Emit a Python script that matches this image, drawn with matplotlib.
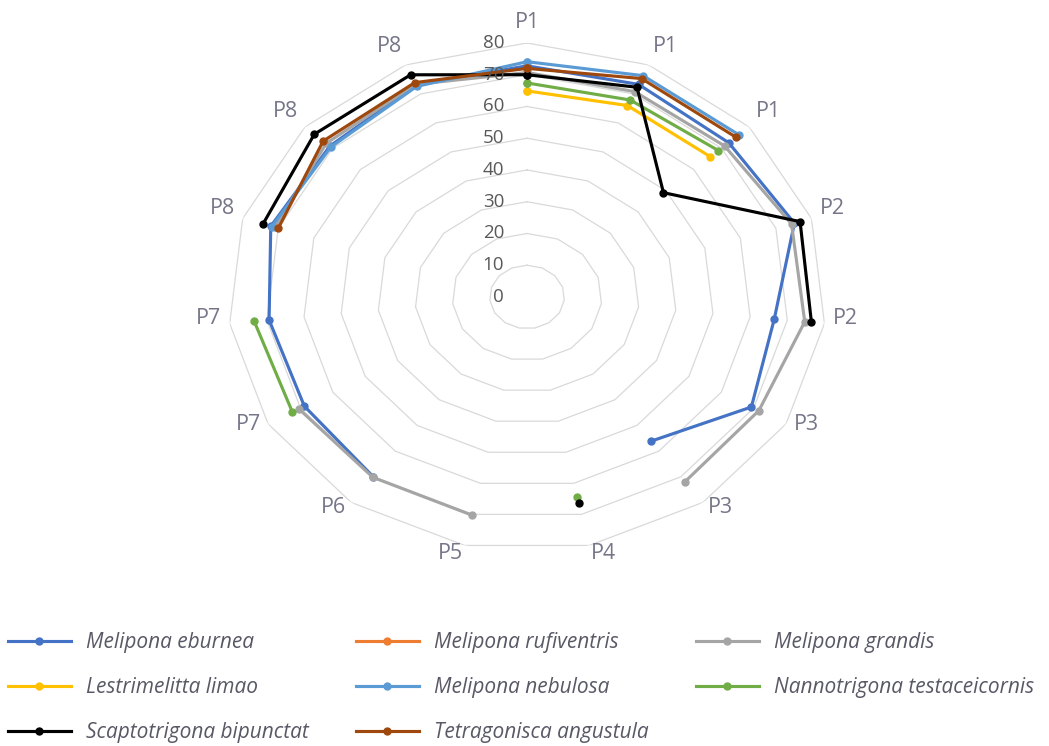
import numpy as np
import matplotlib
matplotlib.use('Agg')
import matplotlib.pyplot as plt
from matplotlib.lines import Line2D

plt.rcParams['font.family'] = ['Open Sans', 'DejaVu Sans']

# Define your data
categories = ['P1', 'P1', 'P1', 'P2', 'P2', 'P3', 'P3', 'P4',
              'P5', 'P6', 'P7', 'P7', 'P8', 'P8', 'P8']
nan = np.nan
eburnea = [72.8, 73.3, 72.6, 75.2, 66.5, 69.3, 56.2, nan, nan, 70.0, 68.8, 69.4, 72.1, 71.0, 73.1]
rufiventris = [nan] * 15
grandis = [70.7, 70.8, 71.1, 74.4, 74.7, 71.6, 71.9, nan, 70.3, 70.2, 70.5, nan, 70.9, 72.3, 73.3]
limao = [64.9, 66.0, 66.0, nan, nan, nan, nan, nan, nan, nan, nan, nan, nan, nan, nan]
nebulosa = [74.1, 76.3, 76.3, nan, nan, nan, nan, nan, nan, nan, nan, nan, 71.8, 70.6, 72.6]
nannotrigona = [67.4, 67.9, 68.9, nan, nan, nan, nan, 64.4, nan, nan, 72.5, 73.4, nan, nan, nan]
scaptotrigona = [70.0, 72.3, 49.1, 76.8, 76.5, nan, nan, 66.4, nan, nan, nan, nan, 74.3, 76.6, 76.6]
tetragonisca = [72.0, 75.3, 75.2, nan, nan, nan, nan, nan, nan, nan, nan, nan, 70.0, 73.4, 73.9]

series_names = ['Melipona eburnea', 'Melipona rufiventris', 'Melipona grandis',
                'Lestrimelitta limao', 'Melipona nebulosa', 'Nannotrigona testaceicornis',
                'Scaptotrigona bipunctat', 'Tetragonisca angustula']
series_values = [eburnea, rufiventris, grandis, limao, nebulosa,
                 nannotrigona, scaptotrigona, tetragonisca]
colors = ['#4472C4', '#ED7D31', '#A5A5A5', '#FFC000', '#5B9BD5',
          '#70AD47', '#000000', '#9E480E']
ring_levels = [10, 20, 30, 40, 50, 60, 70, 80]
tick_values = [0, 10, 20, 30, 40, 50, 60, 70, 80]

n = len(categories)
theta = np.arange(n) * 2 * np.pi / n
theta_closed = np.append(theta, 2 * np.pi)

fig = plt.figure(figsize=(10.49, 7.46), dpi=100)
# the reference is stretched horizontally, so let the polar axes fill a wide box
ax = fig.add_axes([0.2174, 0.2614, 0.5701, 0.681], projection='polar')
ax.set_aspect('auto')
ax.set_theta_zero_location('N')
ax.set_theta_direction(-1)
ax.set_ylim(0, 80)
ax.grid(False)
ax.set_xticks([])
ax.set_yticks([])
ax.spines['polar'].set_visible(False)
ax.patch.set_alpha(0)

# polygon gridlines
for lv in ring_levels:
    ax.plot(theta_closed, [lv] * (n + 1), color='#D9D9D9', lw=0.9, zorder=1)

# series
handles = []
for name, vals, col in zip(series_names, series_values, colors):
    v = np.append(vals, vals[0])
    ax.plot(theta_closed, v, color=col, lw=2.25, marker='o', markersize=5,
            zorder=3, clip_on=False)
    handles.append(Line2D([], [], color=col, lw=2.25, marker='o', markersize=5))

# value axis labels
for tv in tick_values:
    ax.annotate(str(tv), xy=(0, tv), xytext=(-16.5, 0), textcoords='offset points',
                ha='right', va='center', fontsize=13.5, color='#595959',
                annotation_clip=False)

# category labels
for t, lab in zip(theta, categories):
    s, c = np.sin(t), np.cos(t)
    sign = 0 if abs(s) < 1e-6 else np.sign(s)
    dx = 8 * s + 13 * sign
    dy = -(-14 * c - 6)
    ax.annotate(lab, xy=(t, 80), xytext=(dx * 0.72, dy * 0.72),
                textcoords='offset points', ha='center', va='center',
                fontsize=15.5, color='#767689', annotation_clip=False)

# legend fills column-wise, so reorder to read row-wise like the reference
order = [0, 3, 6, 1, 4, 7, 2, 5]
leg = fig.legend([handles[i] for i in order], [series_names[i] for i in order],
                 loc='upper left', bbox_to_anchor=(8 / 1049, 1 - 632 / 746),
                 ncol=3, frameon=False, borderaxespad=0, borderpad=0,
                 handlelength=3.0, handletextpad=0.72, columnspacing=2.3,
                 labelspacing=1.15, numpoints=1,
                 prop={'size': 15, 'style': 'italic'})
for txt in leg.get_texts():
    txt.set_color('#595966')

fig.savefig('out.png', dpi=100)
